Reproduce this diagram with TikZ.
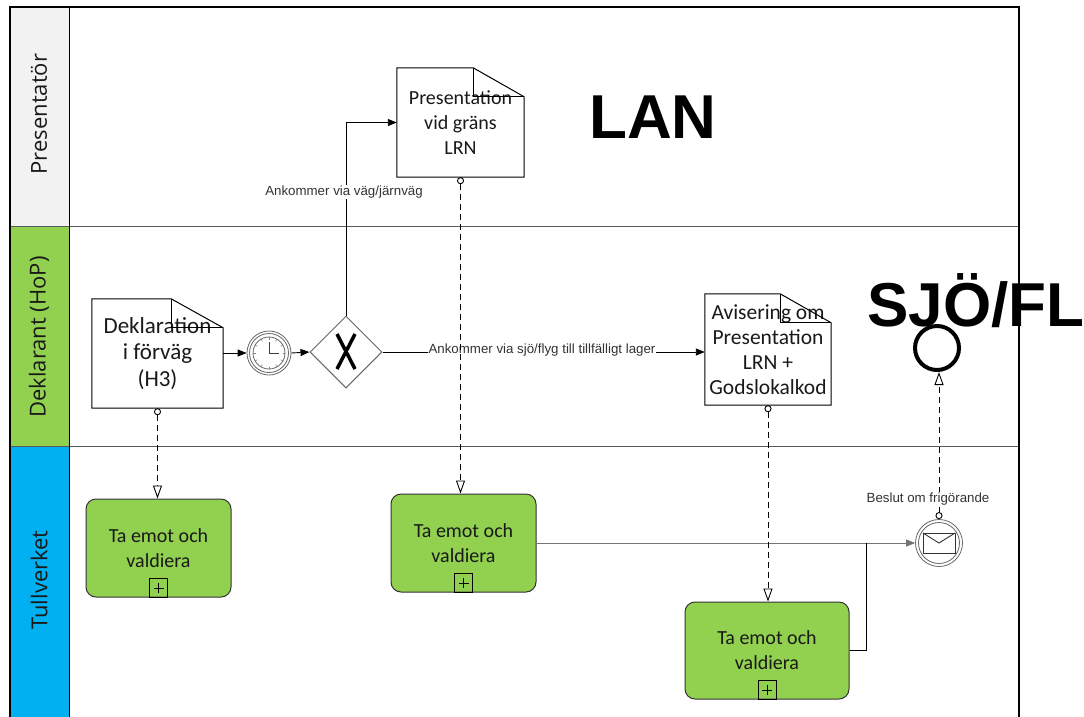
\documentclass[tikz,border=0pt]{standalone}
\usepackage{fontspec}
\setmainfont{Carlito}
\newfontfamily\arialf{Liberation Sans}
\newfontfamily\lanef{Open Sans}
\usetikzlibrary{arrows.meta,calc,shapes.geometric}
\definecolor{lanegreen}{HTML}{92D050}
\definecolor{lanecyan}{HTML}{00B0F0}
\definecolor{lanegray}{HTML}{F2F2F2}
\newcommand\docoutline[2]{%
  \draw[black, line width=1pt] (#1.north west) -- ($(#1.north east)+(-#2,0)$) -- ($(#1.north east)+(0,29)$) -- (#1.south east) -- (#1.south west) -- cycle;
  \draw[black, line width=1pt] ($(#1.north east)+(-#2,0)$) -- ($(#1.north east)+(-#2,29)$) -- ($(#1.north east)+(0,29)$);
}
\newcommand\submarker[1]{%
  \draw[black, line width=0.8pt] ($(#1.south)+(-9,0)$) rectangle ($(#1.south)+(9,-19)$);
  \draw[black, line width=0.8pt] ($(#1.south)+(-5,-9.5)$) -- ($(#1.south)+(5,-9.5)$);
  \draw[black, line width=0.8pt] ($(#1.south)+(0,-4.5)$) -- ($(#1.south)+(0,-14.5)$);
}
\begin{document}
\begin{tikzpicture}[x=1pt,y=-1pt,
  doctext/.style={font=\fontsize{20}{25}\selectfont, align=center, text=black!90, inner sep=0pt},
  task/.style={draw=black!80, fill=lanegreen, rounded corners=10pt, align=center, font=\fontsize{20}{25}\selectfont, line width=1pt, text=black!90, inner sep=0pt},
  flowlbl/.style={font=\arialf\fontsize{13.3}{15}\selectfont, fill=white, inner sep=1pt, text=black!80},
  seq/.style={draw=black, line width=0.9pt, -{Triangle[length=9pt,width=7pt]}},
  msgflow/.style={draw=black, line width=0.9pt, dash pattern=on 6pt off 4pt, {Circle[open,length=7pt,width=7pt,fill=white]}-{Triangle[open,length=13pt,width=9pt,fill=white]}},
  lanelbl/.style={font=\lanef\fontsize{22}{26}\selectfont, rotate=90, text=black!90},
  bigtxt/.style={font=\arialf\bfseries\fontsize{62}{62}\selectfont, anchor=base west, inner sep=0pt},
]
\useasboundingbox (0,0) rectangle (1084,716);
% lanes
\fill[lanegray] (10,7) rectangle (69,226);
\fill[lanegreen] (10,226) rectangle (69,446);
\fill[lanecyan] (10,446) rectangle (69,720);
\draw[black!65, line width=1pt] (10,226) -- (1019,226);
\draw[black!65, line width=1pt] (10,446) -- (1019,446);
\draw[black, line width=1pt] (69,7) -- (69,720);
\draw[black, line width=1.3pt] (10,720) -- (10,7) -- (1019,7) -- (1019,720);
\node[lanelbl] (lane1) at (39,114) {Presentatör};
\node[lanelbl] (lane2) at (39,337) {Deklarant (HoP)};
\node[lanelbl] (lane3) at (39,580) {Tullverket};
% big labels
\node[bigtxt] (lan) at (589,138) {LAN};
\node[bigtxt] (sjo) at (867,326) {SJÖ/FL};
% documents
\node[doctext, font=\fontsize{23}{26.5}\selectfont, minimum width=131pt, minimum height=109pt] (doc1) at (157.5,353.5) {Deklaration\\i förväg\\(H3)};
\docoutline{doc1}{52}
\node[doctext, minimum width=127pt, minimum height=109pt] (doc2) at (460.5,122.5) {Presentation\\vid gräns\\LRN};
\docoutline{doc2}{51}
\node[doctext, font=\fontsize{21.5}{25}\selectfont, minimum width=126pt, minimum height=111pt] (doc3) at (768,349.5) {Avisering om\\Presentation\\LRN +\\Godslokalkod};
\docoutline{doc3}{51}
% timer
\node[circle, draw=black!60, minimum size=44pt, inner sep=0pt, line width=0.8pt] (timer) at (269,353) {};
\draw[black!60, line width=0.8pt] (timer.center) circle (19.5);
\draw[black!60, line width=0.8pt] (timer.center) circle (16);
\foreach \a in {0,30,...,330} \draw[black!50, line width=0.6pt] ($(timer.center)+(\a:13.5)$) -- ($(timer.center)+(\a:16)$);
\draw[black!75, line width=1pt] (timer.center) -- ++(0,-11);
\draw[black!75, line width=1pt] (timer.center) -- ++(10,0);
% gateway
\node[diamond, draw=black!60, minimum width=72pt, minimum height=72pt, inner sep=0pt, line width=1pt] (gw) at (346,352) {};
\draw[black, line width=3.5pt] ($(gw.center)+(-9,-18)$) -- ($(gw.center)+(9,17)$);
\draw[black, line width=3.5pt] ($(gw.center)+(9,-18)$) -- ($(gw.center)+(-9,17)$);
% tasks
\node[task, minimum width=145pt, minimum height=98pt] (task1) at (158.5,548) {Ta emot och\\valdiera};
\submarker{task1}
\node[task, minimum width=145pt, minimum height=98pt] (task2) at (463.5,543) {Ta emot och\\valdiera};
\submarker{task2}
\node[task, minimum width=164pt, minimum height=97pt] (task3) at (767,650.5) {Ta emot och\\valdiera};
\submarker{task3}
% events
\node[circle, draw=black!60, minimum size=47pt, inner sep=0pt, line width=0.8pt] (msg) at (939,543) {};
\draw[black!60, line width=0.8pt] (msg.center) circle (20.5);
\draw[black!80, line width=0.9pt] ($(msg.center)+(-16,-10)$) rectangle ($(msg.center)+(16,10)$);
\draw[black!80, line width=0.9pt] ($(msg.center)+(-16,-10)$) -- (msg.center) -- ($(msg.center)+(16,-10)$);
\node[circle, draw=black, line width=4pt, minimum size=44pt, inner sep=0pt] (endev) at (937,348) {};
% sequence flows
\draw[seq] (doc1.east |- timer) -- (timer.west);
\draw[seq] (timer.east) -- (gw.west);
\draw[seq] (gw.north) |- (doc2.west);
\node[flowlbl] (l1) at (344,192) {Ankommer via väg/järnväg};
\draw[seq] (gw.east) -- (gw.east -| doc3.west);
\node[flowlbl] (l2) at (542,350) {Ankommer via sjö/flyg till tillfälligt lager};
\draw[seq, draw=black!55] (task2.east) -- (task2.east -| msg.west);
\coordinate (join) at (866,543);
\draw[black, line width=0.9pt] (task3.east) -| (join);
% message flows
\draw[msgflow] (doc1.south) -- (doc1.south |- task1.north);
\draw[msgflow] (doc2.south) -- (doc2.south |- task2.north);
\draw[msgflow] (doc3.south) -- (doc3.south |- task3.north);
\draw[msgflow] (msg.north) -- (msg.north |- endev.south);
\node[flowlbl] (l3) at (928,499) {Beslut om frigörande};
\end{tikzpicture}
\end{document}
